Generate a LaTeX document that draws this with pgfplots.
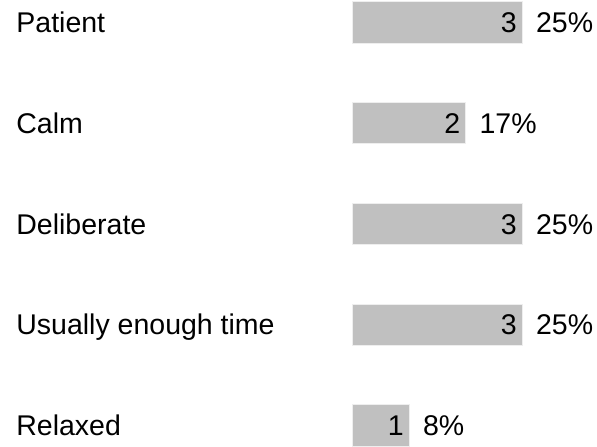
\documentclass[border=0pt]{standalone}
\usepackage{pgfplots}
\usepackage{pgfplotstable}
\pgfplotsset{compat=1.18}
\usepackage{fontspec}
\setmainfont{Liberation Sans}
\definecolor{barfill}{HTML}{C0C0C0}
\definecolor{baredge}{HTML}{EEEEEE}
\pgfplotstableread{
y count pct
4 3 25
3 2 17
2 3 25
1 3 25
0 1 8
}\datatable
\begin{document}
\fontsize{14.25bp}{17bp}\selectfont
\begin{tikzpicture}
\begin{axis}[
  scale only axis,
  width=298.5bp, height=223bp,
  xmin=-6.248, xmax=4.319,
  ymin=-0.2035, ymax=4.2233,
  axis line style={draw=none},
  tick style={draw=none},
  major tick length=0pt,
  xtick=\empty,
  ytick={0,1,2,3,4},
  yticklabels={Relaxed, Usually enough time, Deliberate, Calm, Patient},
  yticklabel style={anchor=base west, inner sep=0pt, xshift=8bp, yshift=-5.1bp, font=\fontsize{14.25bp}{17bp}\selectfont},
  clip=false,
  bar width=0.407,
]
\addplot[xbar, bar shift=0pt, fill=barfill, draw=baredge, line width=0.5bp,
  point meta=explicit symbolic,
  nodes near coords={\pgfplotspointmeta},
  nodes near coords align={horizontal},
  every node near coord/.style={anchor=base east, inner sep=0pt, xshift=-2.6bp, yshift=-5.1bp, font=\fontsize{14.25bp}{17bp}\selectfont, text=black}
] table[x=count, y=y, meta=count] {\datatable};
\addplot[xbar, bar shift=0pt, fill=none, draw=none,
  point meta=explicit symbolic,
  nodes near coords={\pgfplotspointmeta\%},
  nodes near coords align={horizontal},
  every node near coord/.style={anchor=base west, inner sep=0pt, xshift=6.6bp, yshift=-5.1bp, font=\fontsize{14.25bp}{17bp}\selectfont, text=black}
] table[x=count, y=y, meta=pct] {\datatable};
\end{axis}
\end{tikzpicture}
\end{document}
